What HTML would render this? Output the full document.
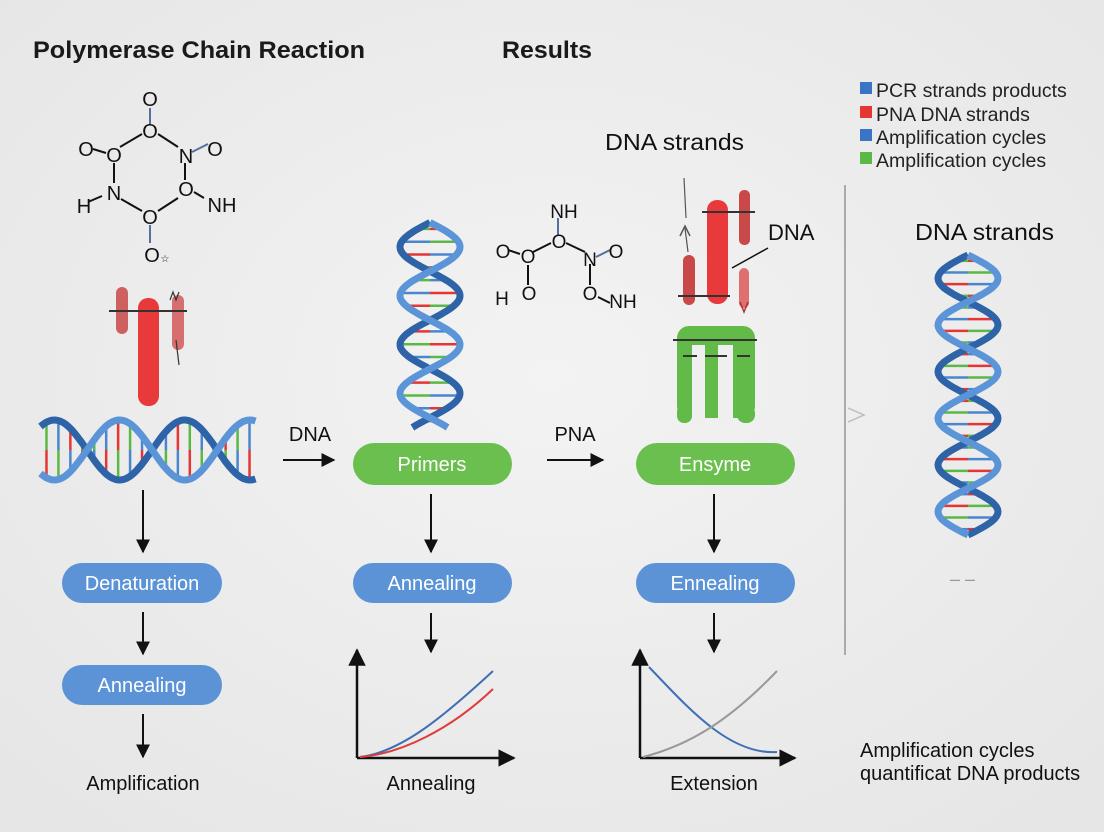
<!DOCTYPE html>
<html><head><meta charset="utf-8"><style>
html,body{margin:0;padding:0;background:#efefef;}
svg{display:block;font-family:"Liberation Sans","DejaVu Sans",sans-serif;}
</style></head><body>
<svg id="s" width="1104" height="832" viewBox="0 0 1104 832" xmlns="http://www.w3.org/2000/svg">
<defs>
<radialGradient id="bg" cx="50%" cy="45%" r="70%"><stop offset="0" stop-color="#f3f3f3"/><stop offset="1" stop-color="#e6e6e6"/></radialGradient>
<marker id="ah" viewBox="0 0 10 10" refX="9" refY="5" markerWidth="7" markerHeight="7" orient="auto-start-reverse"><path d="M0,0L10,5L0,10z" fill="#111"/></marker>
</defs>
<rect width="1104" height="832" fill="url(#bg)"/>
<g fill="#111">
<text x="33" y="58" font-size="24.5" font-weight="bold" fill="#1a1a1a" textLength="332" lengthAdjust="spacingAndGlyphs">Polymerase Chain Reaction</text>
<text x="502" y="58" font-size="24.5" font-weight="bold" fill="#1a1a1a" textLength="90" lengthAdjust="spacingAndGlyphs">Results</text>
<text x="605" y="150" font-size="23" textLength="139" lengthAdjust="spacingAndGlyphs">DNA strands</text>
<text x="915" y="240" font-size="23" textLength="139" lengthAdjust="spacingAndGlyphs">DNA strands</text>
<text x="768" y="240" font-size="22">DNA</text>
</g>
<!-- legend -->
<g font-size="19.5" fill="#222">
<rect x="860" y="82" width="12" height="12" fill="#3b74c4"/><text x="876" y="97">PCR strands products</text>
<rect x="860" y="106" width="12" height="12" fill="#e53535"/><text x="876" y="121">PNA DNA strands</text>
<rect x="860" y="129" width="12" height="12" fill="#3b74c4"/><text x="876" y="144">Amplification cycles</text>
<rect x="860" y="152" width="12" height="12" fill="#5ab845"/><text x="876" y="167">Amplification cycles</text>
</g>
<line x1="845" y1="185" x2="845" y2="655" stroke="#aaa" stroke-width="2"/>
<path d="M848,408 L864,415 L848,422" fill="none" stroke="#bbb" stroke-width="1.5"/>
<text x="950" y="585" font-size="18" fill="#999">– –</text>

<!-- molecule 1 -->
<g stroke="#111" stroke-width="2" fill="none">
<line x1="150" y1="108" x2="150" y2="125" stroke="#5570a0"/>
<line x1="120" y1="147" x2="142" y2="134"/><line x1="158" y1="134" x2="178" y2="147"/>
<line x1="114" y1="163" x2="114" y2="183"/><line x1="185" y1="163" x2="185" y2="180"/>
<line x1="121" y1="199" x2="142" y2="211"/><line x1="158" y1="211" x2="178" y2="198"/>
<line x1="150" y1="225" x2="150" y2="243" stroke="#5570a0"/>
<line x1="93" y1="149" x2="106" y2="153"/><line x1="88" y1="202" x2="102" y2="196"/>
<line x1="194" y1="192" x2="204" y2="198"/><line x1="192" y1="152" x2="208" y2="144" stroke="#5570a0"/>
</g>
<g font-size="20" fill="#111" text-anchor="middle">
<text x="150" y="106">O</text><text x="150" y="138">O</text><text x="86" y="156">O</text><text x="114" y="162">O</text>
<text x="186" y="163">N</text><text x="215" y="156">O</text><text x="114" y="200">N</text><text x="84" y="213">H</text>
<text x="186" y="196">O</text><text x="222" y="212">NH</text><text x="150" y="224">O</text><text x="152" y="262">O</text>
<text x="165" y="262" font-size="10">☆</text>
</g>
<!-- molecule 2 -->
<g stroke="#111" stroke-width="2" fill="none">
<line x1="558" y1="218" x2="558" y2="235" stroke="#5570a0"/>
<line x1="533" y1="252" x2="551" y2="243"/><line x1="566" y1="243" x2="585" y2="252"/>
<line x1="528" y1="265" x2="528" y2="285"/><line x1="590" y1="264" x2="590" y2="285"/>
<line x1="508" y1="250" x2="520" y2="254"/><line x1="596" y1="257" x2="610" y2="250" stroke="#5570a0"/>
<line x1="598" y1="297" x2="610" y2="303"/>
</g>
<g font-size="19" fill="#111" text-anchor="middle">
<text x="564" y="218">NH</text><text x="559" y="248">O</text><text x="503" y="258">O</text><text x="528" y="263">O</text>
<text x="590" y="266">N</text><text x="616" y="258">O</text><text x="502" y="305">H</text><text x="529" y="300">O</text>
<text x="590" y="300">O</text><text x="623" y="308">NH</text>
</g>

<!-- left red bars -->
<g>
<rect x="116" y="287" width="12" height="47" rx="6" fill="#c94848" opacity="0.85"/>
<rect x="138" y="298" width="21" height="108" rx="10" fill="#e83a3a"/>
<rect x="172" y="295" width="12" height="55" rx="6" fill="#cf5050" opacity="0.8"/>
<line x1="109" y1="311" x2="187" y2="311" stroke="#333" stroke-width="2"/>
<line x1="176" y1="340" x2="179" y2="365" stroke="#333" stroke-width="1.2"/>
<path d="M170,300 l3,-8 l3,8 l3,-8" stroke="#333" fill="none" stroke-width="1.2"/>
</g>
<!-- right red bars -->
<g>
<rect x="707" y="200" width="21" height="104" rx="10" fill="#e83a3a"/>
<rect x="683" y="255" width="12" height="50" rx="6" fill="#c94848"/>
<rect x="739" y="190" width="11" height="55" rx="5" fill="#c94848"/>
<rect x="739" y="268" width="10" height="40" rx="5" fill="#e07070"/>
<line x1="702" y1="212" x2="755" y2="212" stroke="#333" stroke-width="2"/>
<line x1="678" y1="296" x2="730" y2="296" stroke="#333" stroke-width="2"/>
<line x1="732" y1="268" x2="768" y2="248" stroke="#111" stroke-width="1.5"/>
<line x1="684" y1="178" x2="686" y2="218" stroke="#555" stroke-width="1.2"/>
<path d="M680,236 L685,226 L690,236" fill="none" stroke="#555" stroke-width="1.5"/>
<line x1="685" y1="228" x2="688" y2="252" stroke="#555" stroke-width="1.2"/>
<path d="M740,302 L744,312 L748,302" fill="none" stroke="#a33" stroke-width="1.5"/>
</g>
<!-- green m -->
<rect x="677" y="326" width="78" height="92" rx="12" fill="#62bb48"/>
<rect x="692" y="345" width="13" height="80" fill="#efefef"/>
<rect x="718" y="345" width="15" height="80" fill="#efefef"/>
<rect x="705" y="345" width="13" height="68" rx="6" fill="#62bb48"/>
<rect x="677" y="405" width="15" height="18" rx="7" fill="#62bb48"/>
<rect x="737" y="405" width="18" height="18" rx="8" fill="#62bb48"/>
<line x1="673" y1="340" x2="757" y2="340" stroke="#333" stroke-width="2"/>
<g stroke="#333" stroke-width="2"><line x1="683" y1="356" x2="697" y2="356"/><line x1="705" y1="356" x2="727" y2="356"/><line x1="737" y1="356" x2="750" y2="356"/></g>

<g id="helices"></g>

<!-- pills -->
<g font-size="20" fill="#fff" text-anchor="middle">
<rect x="353" y="443" width="159" height="42" rx="21" fill="#6bbf4e"/><text x="432" y="471">Primers</text>
<rect x="636" y="443" width="159" height="42" rx="21" fill="#6bbf4e"/><text x="715" y="471">Ensyme</text>
<rect x="62" y="563" width="160" height="40" rx="20" fill="#5b93d6"/><text x="142" y="590">Denaturation</text>
<rect x="353" y="563" width="159" height="40" rx="20" fill="#5b93d6"/><text x="432" y="590">Annealing</text>
<rect x="636" y="563" width="159" height="40" rx="20" fill="#5b93d6"/><text x="715" y="590">Ennealing</text>
<rect x="62" y="665" width="160" height="40" rx="20" fill="#5b93d6"/><text x="142" y="692">Annealing</text>
</g>
<!-- arrows -->
<g stroke="#111" stroke-width="2" marker-end="url(#ah)">
<line x1="143" y1="490" x2="143" y2="552"/>
<line x1="143" y1="612" x2="143" y2="654"/>
<line x1="143" y1="714" x2="143" y2="757"/>
<line x1="431" y1="494" x2="431" y2="552"/>
<line x1="431" y1="613" x2="431" y2="652"/>
<line x1="714" y1="494" x2="714" y2="552"/>
<line x1="714" y1="613" x2="714" y2="652"/>
<line x1="283" y1="460" x2="334" y2="460"/>
<line x1="547" y1="460" x2="603" y2="460"/>
</g>
<g font-size="20" fill="#111" text-anchor="middle">
<text x="310" y="441">DNA</text><text x="575" y="441">PNA</text>
<text x="143" y="790">Amplification</text><text x="431" y="790">Annealing</text><text x="714" y="790">Extension</text>
</g>
<g font-size="20" fill="#111"><text x="860" y="757">Amplification cycles</text><text x="860" y="780">quantificat DNA products</text></g>
<!-- charts -->
<g stroke="#111" stroke-width="2.5" fill="none">
<path d="M357,758 V650" marker-end="url(#ah)"/><path d="M357,758 H514" marker-end="url(#ah)"/>
<path d="M640,758 V650" marker-end="url(#ah)"/><path d="M640,758 H795" marker-end="url(#ah)"/>
</g>
<g fill="none" stroke-width="2">
<path d="M360,757 C400,752 440,720 493,671" stroke="#3f6fb5"/>
<path d="M360,757 C400,754 450,730 493,689" stroke="#e03b3b"/>
<path d="M649,667 C690,710 730,755 777,752" stroke="#3f6fb5"/>
<path d="M643,757 C690,745 730,720 777,671" stroke="#999"/>
</g>
</svg>
<script>
(function(){
var g=document.getElementById('helices'),NS='http://www.w3.org/2000/svg';
function el(n,a){var e=document.createElementNS(NS,n);for(var k in a)e.setAttribute(k,a[k]);g.appendChild(e);return e;}
var cols=['#e53535','#5ab845','#4a86d0'];
function helix(cx,cy,len,amp,turns,vert,rungs,ph){
 var s1='',s2='',N=120;ph=ph||0;
 function pt(t,off){var u=t*len-len/2,v=amp*Math.sin(t*turns*2*Math.PI+off+ph);return vert?[cx+v,cy+u]:[cx+u,cy+v];}
 for(var i=0;i<rungs;i++){var t=(i+0.5)/rungs,a=pt(t,0),b=pt(t,Math.PI);
  var c1=cols[i%3],c2=cols[(i+1)%3];
  var m=[(a[0]+b[0])/2,(a[1]+b[1])/2];
  el('line',{x1:a[0],y1:a[1],x2:m[0],y2:m[1],stroke:c1,'stroke-width':2.5});
  el('line',{x1:m[0],y1:m[1],x2:b[0],y2:b[1],stroke:c2,'stroke-width':2.5});}
 for(var i=0;i<=N;i++){var t=i/N,a=pt(t,0),b=pt(t,Math.PI);
  s1+=(i?'L':'M')+a[0].toFixed(1)+','+a[1].toFixed(1);s2+=(i?'L':'M')+b[0].toFixed(1)+','+b[1].toFixed(1);}
 el('path',{d:s2,fill:'none',stroke:'#2e63a8','stroke-width':7});
 el('path',{d:s1,fill:'none',stroke:'#5b95d8','stroke-width':7});
}
helix(148,450,215,30,1.65,false,18,0.9);
helix(430,325,205,30,2.1,true,16);
helix(968,395,280,30,3,true,24);
})();
</script>
</body></html>
